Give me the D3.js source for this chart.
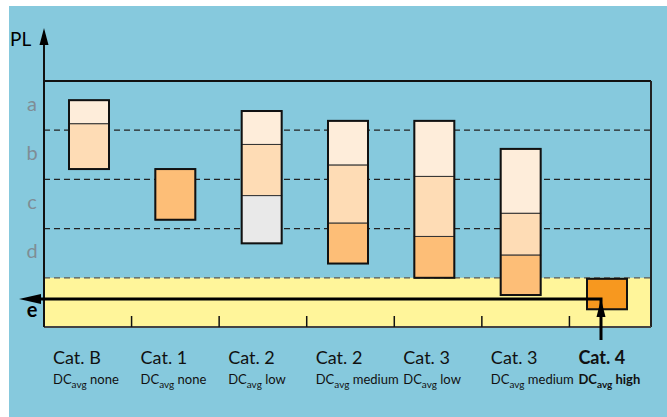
<!DOCTYPE html>
<html><head><meta charset="utf-8">
<script src="https://cdn.jsdelivr.net/npm/d3@7"></script>
<style>
html,body{margin:0;padding:0;background:#fff;}
svg{display:block;font-family:Lato,"Open Sans",sans-serif;}
</style></head>
<body>
<svg id="chart" width="667" height="417"></svg>
<script>
// ---- data ----
const categories = ["Cat. B","Cat. 1","Cat. 2","Cat. 2","Cat. 3","Cat. 3","Cat. 4"];
const dcLevels = ["none","none","low","medium","low","medium","high"];
const emphasis = [false,false,false,false,false,false,true];
// PL boundaries of each stacked segment (top to bottom), in level units (e=0..1, d=1..2, c=2..3, b=3..4, a=4..5)
const segmentBounds = [
  [4.61,4.13,3.21],
  [3.21,2.18],
  [4.39,3.71,2.67,1.70],
  [4.19,3.29,2.11,1.29],
  [4.19,3.06,1.84,1.00],
  [3.62,2.31,1.46,0.65],
  [0.98,0.36]
];
const segmentShades = [
  ["light","mid"],
  ["dark"],
  ["light","mid","grey"],
  ["light","mid","dark"],
  ["light","mid","dark"],
  ["light","mid","dark"],
  ["accent"]
];
const levelLabels = ["e","d","c","b","a"];
const axisTitle = "PL";

// ---- styles ----
const shadeColor = {light:"#FEEDDA", mid:"#FEDCB5", dark:"#FDBE77", grey:"#E9E9E9", accent:"#F7981F"};

const svg = d3.select("#chart");
svg.append("rect").attr("x",9).attr("y",6).attr("width",658).attr("height",411).attr("fill","#86C9DD");

const y = d3.scaleLinear().domain([0,5]).range([327,81]);
const xAxis = d3.scaleBand().domain(d3.range(categories.length)).range([44,657]);
const xBar = d3.scalePoint().domain(d3.range(categories.length)).range([89,607]);
const barW = 40;
const frameL = 44, frameR = 651;

// yellow band (level e)
svg.append("rect").attr("x",frameL).attr("y",y(1)).attr("width",frameR-frameL).attr("height",y(0)-y(1)).attr("fill","#FFF59A");

// dashed level lines
svg.append("g").selectAll("line").data([1,2,3,4]).join("line")
  .attr("x1",frameL).attr("x2",frameR).attr("y1",d=>y(d)).attr("y2",d=>y(d))
  .attr("stroke",d=>d===1?"#555":"#222").attr("stroke-width",1.3).attr("stroke-dasharray","6,4");

// level labels
svg.append("g").selectAll("text").data(levelLabels).join("text")
  .attr("x",32).attr("y",(d,i)=>y(i+0.5)+ (i===0?15:5))
  .attr("text-anchor","middle")
  .attr("font-size",20)
  .attr("font-weight",(d,i)=>i===0?"bold":"normal")
  .attr("fill",(d,i)=>i===0?"#000":"#7f8d95")
  .text(d=>d);

// bars
const barG = svg.append("g");
segmentBounds.forEach((b,i)=>{
  const g = barG.append("g");
  const segs = segmentShades[i].map((s,k)=>({shade:s, top:b[k], bot:b[k+1]}));
  g.selectAll("rect").data(segs).join("rect")
    .attr("x",xBar(i)-barW/2).attr("width",barW)
    .attr("y",d=>y(d.top)).attr("height",d=>y(d.bot)-y(d.top))
    .attr("fill",d=>shadeColor[d.shade]).attr("stroke","#333").attr("stroke-width",1);
  g.append("rect").attr("x",xBar(i)-barW/2).attr("width",barW)
    .attr("y",y(b[0])).attr("height",y(b[b.length-1])-y(b[0]))
    .attr("fill","none").attr("stroke","#111").attr("stroke-width",2);
});

// frame
svg.append("line").attr("x1",frameL).attr("x2",frameR).attr("y1",y(5)).attr("y2",y(5)).attr("stroke","#111").attr("stroke-width",2);
svg.append("line").attr("x1",frameR).attr("x2",frameR).attr("y1",y(5)).attr("y2",y(0)).attr("stroke","#222").attr("stroke-width",2);
svg.append("line").attr("x1",frameL).attr("x2",frameR).attr("y1",y(0)).attr("y2",y(0)).attr("stroke","#444").attr("stroke-width",2);

// ticks at category boundaries
svg.append("g").selectAll("line").data(d3.range(1,categories.length)).join("line")
  .attr("x1",d=>xAxis(d)).attr("x2",d=>xAxis(d)).attr("y1",y(0)-11).attr("y2",y(0))
  .attr("stroke","#111").attr("stroke-width",1.5);

// PL axis with arrow
svg.append("line").attr("x1",frameL).attr("x2",frameL).attr("y1",y(0)).attr("y2",40).attr("stroke","#111").attr("stroke-width",2);
svg.append("path").attr("d",`M${frameL},28 L${frameL+4.5},45 L${frameL-4.5},45 Z`).attr("fill","#000");
svg.append("text").attr("x",10).attr("y",46).attr("font-size",19).attr("fill","#000").text(axisTitle);

// annotation arrow from Cat. 4 to level e
const ax = xBar(6)-6, ay = y(0.57);
svg.append("path").attr("d",`M${ax},340 L${ax},${ay} L30,${ay}`).attr("fill","none").attr("stroke","#000").attr("stroke-width",3);
svg.append("path").attr("d",`M19,${ay} L41,${ay-5} L41,${ay+5} Z`).attr("fill","#000");
svg.append("path").attr("d",`M${ax},${ay} L${ax+4.5},${ay+18} L${ax-4.5},${ay+18} Z`).attr("fill","#000");

// category labels
const lab = svg.append("g").selectAll("g").data(categories).join("g")
  .attr("transform",(d,i)=>`translate(${xAxis(i)+9},0)`)
  .attr("font-weight",(d,i)=>emphasis[i]?"bold":"normal")
  .attr("fill","#111");
lab.append("text").attr("y",364).attr("font-size",18).text(d=>d);
const t2 = lab.append("text").attr("y",384).attr("font-size",13);
t2.append("tspan").text("DC");
t2.append("tspan").attr("font-size",10).attr("dy",4).text("avg");
t2.append("tspan").attr("dy",-4).text((d,i)=>" "+dcLevels[i]);
</script>
</body></html>
